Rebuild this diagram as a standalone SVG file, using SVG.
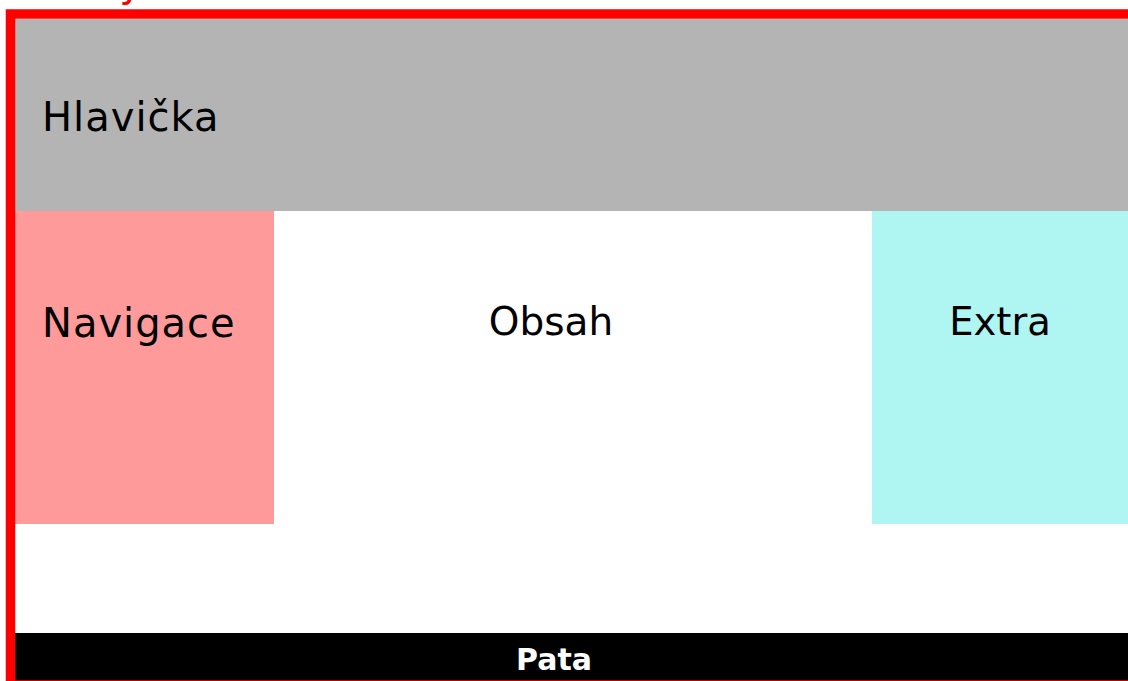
<svg xmlns="http://www.w3.org/2000/svg" width="1128" height="681" viewBox="0 0 1128 681">
  <style>
    .lbl { font-family: "DejaVu Sans", Verdana, sans-serif; font-size: 40px; fill: #000; }
    .wide { letter-spacing: 1px; }
    .foot { font-family: "DejaVu Sans", Verdana, sans-serif; font-size: 30px; font-weight: bold; fill: #fff; }
    .tag { font-family: "DejaVu Sans", Verdana, sans-serif; font-size: 40px; fill: #ff0000; }
  </style>
  <rect width="1128" height="681" fill="#ffffff"/>

  <!-- page body element, label sits above the frame -->
  <text class="tag" x="44" y="-4">body</text>

  <g id="header">
    <rect x="15" y="19" width="1113" height="192" fill="#b4b4b4"/>
    <text class="lbl wide" x="42" y="131">Hlavička</text>
  </g>

  <g id="navigation">
    <rect x="15" y="211" width="259" height="313" fill="#fe9a9a"/>
    <text class="lbl wide" x="42" y="337">Navigace</text>
  </g>

  <g id="content">
    <text class="lbl" x="551" y="335" text-anchor="middle" style="font-size:39px">Obsah</text>
  </g>

  <g id="extra">
    <rect x="872" y="211" width="256" height="313" fill="#aff5f1"/>
    <text class="lbl" x="1000" y="335" text-anchor="middle" style="font-size:38.5px">Extra</text>
  </g>

  <g id="footer">
    <rect x="15" y="633" width="1113" height="48" fill="#000000"/>
    <text class="foot" x="554" y="670" text-anchor="middle">Pata</text>
  </g>

  <!-- outer frame -->
  <g id="frame">
    <rect x="10.5" y="14" width="1130" height="671" fill="none" stroke="#ff0000" stroke-width="9.5"/>
  </g>

  <g id="connectors"/>
</svg>
